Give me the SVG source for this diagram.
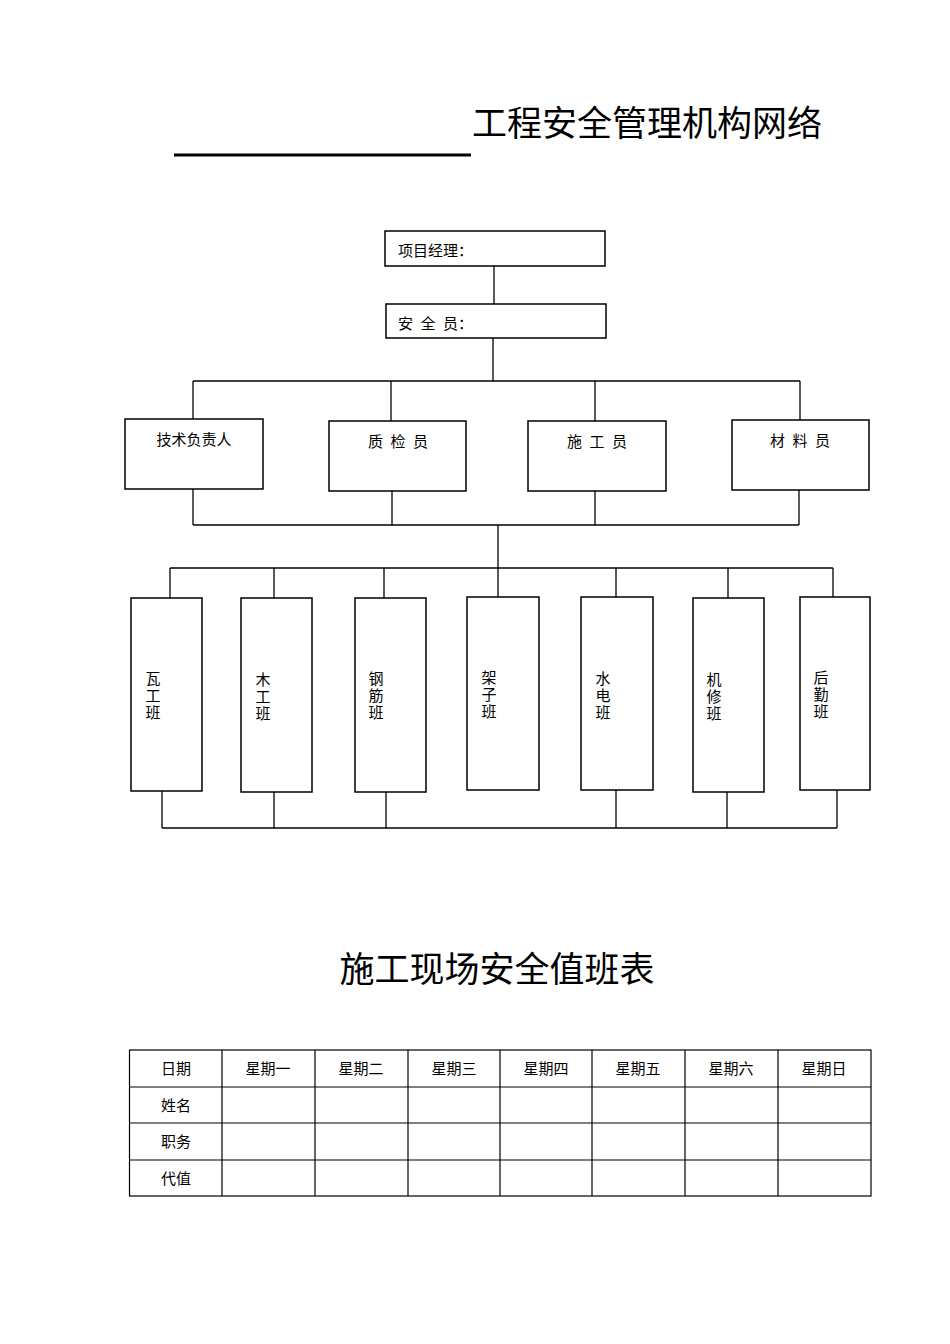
<svg xmlns="http://www.w3.org/2000/svg" width="950" height="1344" viewBox="0 0 950 1344">
<style>
text{font-family:"Liberation Serif","Noto Sans CJK SC",serif;fill:#000}
.t{font-size:15px}
.v{font-size:15px;text-anchor:middle}
.h{font-family:"Liberation Sans","Noto Sans CJK SC",sans-serif;font-size:35px}
.tb{font-family:"Liberation Sans","Noto Sans CJK SC",sans-serif;font-size:15px;text-anchor:middle}
rect{fill:#fff;stroke:#000;stroke-width:1.5}
.c line,.c polyline{stroke:#000;stroke-width:1.3;fill:none}
</style>
<text class="h" x="472" y="136">工程安全管理机构网络</text>
<line x1="174" y1="155" x2="471" y2="155" stroke="#000" stroke-width="3"/>
<g class="c">
<line x1="494" y1="266" x2="494" y2="304"/>
<line x1="493" y1="338" x2="493" y2="381"/>
<line x1="193" y1="381" x2="800" y2="381"/>
<line x1="193" y1="381" x2="193" y2="419"/>
<line x1="391" y1="381" x2="391" y2="421"/>
<line x1="595" y1="381" x2="595" y2="421"/>
<line x1="800" y1="381" x2="800" y2="420"/>
<line x1="193" y1="489" x2="193" y2="525"/>
<line x1="392" y1="491" x2="392" y2="525"/>
<line x1="595" y1="491" x2="595" y2="525"/>
<line x1="799" y1="490" x2="799" y2="525"/>
<line x1="193" y1="525" x2="799" y2="525"/>
<line x1="498" y1="525" x2="498" y2="568"/>
<line x1="170" y1="568" x2="833" y2="568"/>
<line x1="170" y1="568" x2="170" y2="598"/>
<line x1="274" y1="568" x2="274" y2="598"/>
<line x1="384" y1="568" x2="384" y2="598"/>
<line x1="498" y1="568" x2="498" y2="597"/>
<line x1="616" y1="568" x2="616" y2="597"/>
<line x1="728" y1="568" x2="728" y2="598"/>
<line x1="833" y1="568" x2="833" y2="597"/>
<line x1="162" y1="791" x2="162" y2="828"/>
<line x1="274" y1="792" x2="274" y2="828"/>
<line x1="386" y1="792" x2="386" y2="828"/>
<line x1="616" y1="790" x2="616" y2="828"/>
<line x1="727" y1="792" x2="727" y2="828"/>
<line x1="837" y1="790" x2="837" y2="828"/>
<line x1="162" y1="828" x2="837" y2="828"/>
</g>
<g id="n-pm"><rect x="385" y="231" width="220" height="35"/><text class="t" x="398" y="256">项目经理：</text></g>
<g id="n-safety"><rect x="386" y="304" width="220" height="34"/><text class="t" x="398" y="329" xml:space="preserve">安  全  员：</text></g>
<g id="n-tech"><rect x="125" y="419" width="138" height="70"/><text class="v" x="194" y="445">技术负责人</text></g>
<g id="n-qc"><rect x="329" y="421" width="137" height="70"/><text class="v" x="398" y="447" xml:space="preserve">质  检  员</text></g>
<g id="n-cons"><rect x="528" y="421" width="138" height="70"/><text class="v" x="597" y="447" xml:space="preserve">施  工  员</text></g>
<g id="n-mat"><rect x="732" y="420" width="137" height="70"/><text class="v" x="800" y="446" xml:space="preserve">材  料  员</text></g>
<g id="b1"><rect x="131" y="598" width="71" height="193"/><text class="v" x="153" y="684">瓦</text><text class="v" x="153" y="701">工</text><text class="v" x="153" y="718">班</text></g>
<g id="b2"><rect x="241" y="598" width="71" height="194"/><text class="v" x="263" y="685">木</text><text class="v" x="263" y="702">工</text><text class="v" x="263" y="719">班</text></g>
<g id="b3"><rect x="355" y="598" width="71" height="194"/><text class="v" x="376" y="684">钢</text><text class="v" x="376" y="701">筋</text><text class="v" x="376" y="718">班</text></g>
<g id="b4"><rect x="467" y="597" width="72" height="193"/><text class="v" x="489" y="683">架</text><text class="v" x="489" y="700">子</text><text class="v" x="489" y="717">班</text></g>
<g id="b5"><rect x="581" y="597" width="72" height="193"/><text class="v" x="603" y="684">水</text><text class="v" x="603" y="701">电</text><text class="v" x="603" y="718">班</text></g>
<g id="b6"><rect x="693" y="598" width="71" height="194"/><text class="v" x="714" y="685">机</text><text class="v" x="714" y="702">修</text><text class="v" x="714" y="719">班</text></g>
<g id="b7"><rect x="800" y="597" width="70" height="193"/><text class="v" x="821" y="683">后</text><text class="v" x="821" y="700">勤</text><text class="v" x="821" y="717">班</text></g>
<text class="h" x="497" y="982" text-anchor="middle">施工现场安全值班表</text>
<g id="table" stroke="#000" stroke-width="1.2">
<rect x="129.5" y="1050" width="741.5" height="146" style="stroke-width:1.2"/>
<line x1="129.5" y1="1087" x2="871" y2="1087"/><line x1="129.5" y1="1123" x2="871" y2="1123"/><line x1="129.5" y1="1160" x2="871" y2="1160"/>
<line x1="222" y1="1050" x2="222" y2="1196"/><line x1="315" y1="1050" x2="315" y2="1196"/><line x1="408" y1="1050" x2="408" y2="1196"/><line x1="500" y1="1050" x2="500" y2="1196"/><line x1="592" y1="1050" x2="592" y2="1196"/><line x1="685" y1="1050" x2="685" y2="1196"/><line x1="778" y1="1050" x2="778" y2="1196"/>
</g>
<g stroke="none">
<text class="tb" x="176" y="1074">日期</text><text class="tb" x="268" y="1074">星期一</text><text class="tb" x="361" y="1074">星期二</text><text class="tb" x="454" y="1074">星期三</text><text class="tb" x="546" y="1074">星期四</text><text class="tb" x="638" y="1074">星期五</text><text class="tb" x="731" y="1074">星期六</text><text class="tb" x="824" y="1074">星期日</text>
<text class="tb" x="176" y="1111">姓名</text><text class="tb" x="176" y="1147">职务</text><text class="tb" x="176" y="1184">代值</text>
</g>
</svg>
